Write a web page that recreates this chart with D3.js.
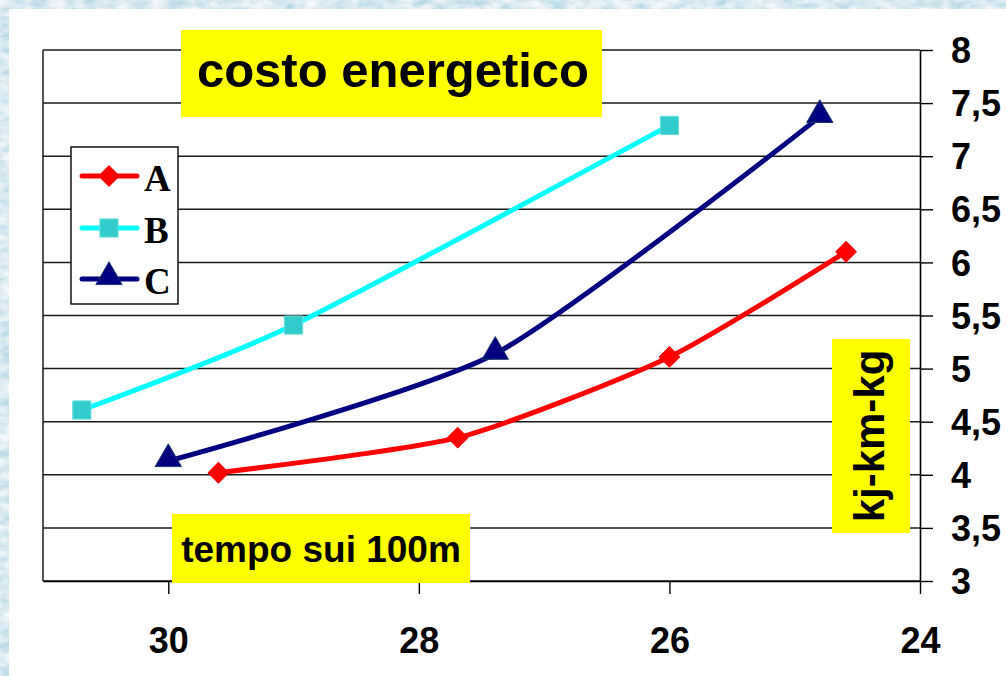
<!DOCTYPE html>
<html>
<head>
<meta charset="utf-8">
<script src="https://cdn.jsdelivr.net/npm/d3@7"></script>
<style>
  html, body { margin: 0; padding: 0; background: #fff; }
  svg { display: block; }
</style>
</head>
<body>
<svg id="chart" width="1006" height="676"></svg>
<script>
// ---- data ----
const seriesNames = ["A", "B", "C"];
const timeA = [29.6, 27.69, 26.0, 24.59];
const costA = [4.02, 4.35, 5.11, 6.10];
const timeB = [30.69, 29.0, 26.0];
const costB = [4.61, 5.41, 7.29];
const timeC = [30.0, 27.39, 24.80];
const costC = [4.13, 5.14, 7.37];
const xTicks = [30, 28, 26, 24];
const yTicks = [3, 3.5, 4, 4.5, 5, 5.5, 6, 6.5, 7, 7.5, 8];
const titleText = "costo energetico";
const xLabelText = "tempo sui 100m";
const yLabelText = "kj-km-kg";

const series = [
  { name: seriesNames[0], x: timeA, y: costA, line: "#FF0000", fill: "#FF0000", stroke: "#FF0000", marker: d3.symbolSquare, rot: 45, size: 210, dy: 0 },
  { name: seriesNames[1], x: timeB, y: costB, line: "#00FFFF", fill: "#33CCCC", stroke: "#66dddd", marker: d3.symbolSquare, rot: 0, size: 330, dy: 0 },
  { name: seriesNames[2], x: timeC, y: costC, line: "#000080", fill: "#000080", stroke: "#1a3a6a", marker: d3.symbolTriangle, rot: 0, size: 300, dy: -2 }
];

const svg = d3.select("#chart");
const W = 1006, H = 676;

// ---- textured blue background ----
const defs = svg.append("defs");
const f = defs.append("filter").attr("id", "water").attr("x", 0).attr("y", 0).attr("width", 1).attr("height", 1);
f.append("feTurbulence").attr("type", "fractalNoise").attr("baseFrequency", "0.06 0.12").attr("numOctaves", 3).attr("seed", 4).attr("result", "n");
f.append("feColorMatrix").attr("in", "n").attr("type", "matrix")
  .attr("values", "0.9 0 0 0 0.3  0.5 0 0 0 0.6  0.35 0 0 0 0.73  0 0 0 0 1");
svg.append("rect").attr("x", 0).attr("y", 0).attr("width", W).attr("height", H).attr("fill", "#a6d6e4");
svg.append("rect").attr("x", 0).attr("y", 0).attr("width", W).attr("height", H).attr("filter", "url(#water)").attr("opacity", 0.9);
svg.append("rect").attr("x", 9).attr("y", 9).attr("width", W - 9).attr("height", H - 9).attr("fill", "#ffffff");

// ---- scales ----
const x = d3.scaleLinear().domain([31, 24]).range([43, 920]);
const y = d3.scaleLinear().domain([3, 8]).range([581, 50]);

const fontSans = "'Liberation Sans', Arial, sans-serif";

// gridlines
svg.append("g").selectAll("line").data(yTicks).join("line")
  .attr("x1", x(31)).attr("x2", x(24))
  .attr("y1", d => y(d)).attr("y2", d => y(d))
  .attr("stroke", "#1a1a1a").attr("stroke-width", 1.5);
// left border
svg.append("line").attr("x1", x(31)).attr("x2", x(31)).attr("y1", y(8)).attr("y2", y(3))
  .attr("stroke", "#1a1a1a").attr("stroke-width", 1.5);

// right y axis
const yAxis = svg.append("g").attr("transform", `translate(${x(24)},0)`)
  .call(d3.axisRight(y).tickValues(yTicks).tickSize(13).tickSizeOuter(0)
    .tickFormat(d => String(d).replace(".", ",")));
yAxis.select(".domain").attr("stroke", "#000").attr("stroke-width", 1.6);
yAxis.selectAll(".tick line").attr("stroke", "#000").attr("stroke-width", 1.4);
yAxis.selectAll(".tick text").attr("x", 31).attr("dy", "0.35em")
  .attr("font-family", fontSans).attr("font-weight", "bold").attr("font-size", 36).attr("fill", "#000");

// bottom x axis
const xAxis = svg.append("g").attr("transform", `translate(0,${y(3)})`)
  .call(d3.axisBottom(x).tickValues(xTicks).tickSize(13).tickSizeOuter(0).tickFormat(d3.format("d")));
xAxis.select(".domain").attr("stroke", "#000").attr("stroke-width", 1.6);
xAxis.selectAll(".tick line").attr("stroke", "#000").attr("stroke-width", 1.4);
xAxis.selectAll(".tick text").attr("y", 72).attr("dy", 0)
  .attr("font-family", fontSans).attr("font-weight", "bold").attr("font-size", 36).attr("fill", "#000");

// ---- title box ----
svg.append("rect").attr("x", 181).attr("y", 30).attr("width", 421).attr("height", 87).attr("fill", "#FFFF00");
svg.append("text").attr("x", 393).attr("y", 87).attr("text-anchor", "middle")
  .attr("font-family", fontSans).attr("font-weight", "bold").attr("font-size", 49).attr("fill", "#000")
  .text(titleText);

// ---- x label box ----
svg.append("rect").attr("x", 172).attr("y", 514).attr("width", 298).attr("height", 69).attr("fill", "#FFFF00");
svg.append("text").attr("x", 321).attr("y", 562).attr("text-anchor", "middle")
  .attr("font-family", fontSans).attr("font-weight", "bold").attr("font-size", 37).attr("fill", "#000")
  .text(xLabelText);

// ---- y label box ----
svg.append("rect").attr("x", 832).attr("y", 339).attr("width", 78).attr("height", 194).attr("fill", "#FFFF00");
svg.append("text").attr("transform", "translate(884,436) rotate(-90)").attr("text-anchor", "middle")
  .attr("font-family", fontSans).attr("font-weight", "bold").attr("font-size", 42).attr("fill", "#000")
  .text(yLabelText);

// ---- lines and markers ----
const lineGen = d3.line().x(d => x(d[0])).y(d => y(d[1])).curve(d3.curveCardinal.tension(0.35));

series.forEach(s => {
  const pts = s.x.map((v, i) => [v, s.y[i]]);
  svg.append("path").datum(pts).attr("d", lineGen)
    .attr("fill", "none").attr("stroke", s.line).attr("stroke-width", 5).attr("stroke-linejoin", "round");
  svg.append("g").selectAll("path").data(pts).join("path")
    .attr("transform", d => `translate(${x(d[0])},${y(d[1]) + s.dy}) rotate(${s.rot})`)
    .attr("d", d3.symbol().type(s.marker).size(s.size))
    .attr("fill", s.fill).attr("stroke", s.stroke).attr("stroke-width", 1);
});

// ---- legend ----
const lg = svg.append("g");
lg.append("rect").attr("x", 71).attr("y", 147).attr("width", 107).attr("height", 157)
  .attr("fill", "#fff").attr("stroke", "#000").attr("stroke-width", 1.4);
const legendY = [176, 228, 279];
series.forEach((s, i) => {
  const cy = legendY[i];
  lg.append("line").attr("x1", 82).attr("x2", 137).attr("y1", cy).attr("y2", cy)
    .attr("stroke", s.line).attr("stroke-width", 5).attr("stroke-linecap", "round");
  lg.append("path").attr("transform", `translate(109,${cy + s.dy}) rotate(${s.rot})`)
    .attr("d", d3.symbol().type(s.marker).size(s.size))
    .attr("fill", s.fill).attr("stroke", s.stroke).attr("stroke-width", 1);
  lg.append("text").attr("x", 144).attr("y", cy + 15)
    .attr("font-family", "'Liberation Serif', 'Times New Roman', serif").attr("font-weight", "bold")
    .attr("font-size", 37).attr("fill", "#000").text(s.name);
});
</script>
</body>
</html>
